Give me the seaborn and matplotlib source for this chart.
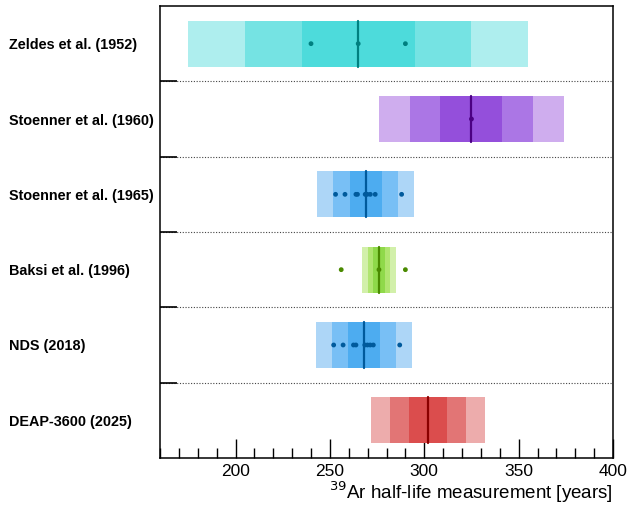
import numpy as np
import pandas as pd
import matplotlib
matplotlib.use("Agg")
import matplotlib.pyplot as plt
import seaborn as sns
from matplotlib.ticker import MultipleLocator, FixedLocator

sns.set_theme(style="ticks")
plt.rcParams['font.family'] = ['Liberation Sans', 'DejaVu Sans']
plt.rcParams['text.color'] = 'black'
plt.rcParams['axes.labelcolor'] = 'black'
plt.rcParams['xtick.color'] = 'black'
plt.rcParams['ytick.color'] = 'black'

labels = ["Zeldes et al. (1952)", "Stoenner et al. (1960)", "Stoenner et al. (1965)",
          "Baksi et al. (1996)", "NDS (2018)", "DEAP-3600 (2025)"]
centers = [265, 325, 269, 276, 268, 302]
sigmas = [30, 16.4, 8.6, 3, 8.5, 10]

zeldes_pts = [240, 265, 290]
stoenner60_pts = [325]
stoenner65_pts = [253, 258, 263.8, 264.6, 268.7, 269.8, 271.4, 274, 288]
baksi_pts = [256, 276, 290]
nds_pts = [252, 257, 262.5, 263.8, 268.5, 269.9, 271.4, 273, 287]
deap_pts = []
points = [zeldes_pts, stoenner60_pts, stoenner65_pts, baksi_pts, nds_pts, deap_pts]

band_colors = [
    ["#aeeeee", "#75e3e3", "#4ddbdb"],
    ["#cfadee", "#ab76e5", "#944fdb"],
    ["#add6f7", "#78bff5", "#4dacf0"],
    ["#d2f0aa", "#b0e570", "#8fd94a"],
    ["#add6f7", "#78bff5", "#4dacf0"],
    ["#edacac", "#e27575", "#db4d4d"],
]
line_colors = ["#008080", "#4b0082", "#005a9c", "#4a8a00", "#005a9c", "#8b0000"]

fig = plt.figure(figsize=(6.27, 5.05), dpi=100)
ax = fig.add_axes([0.2552, 0.0931, 0.7225, 0.895])

bh = 0.61
for i, (c, s) in enumerate(zip(centers, sigmas)):
    for k, col in zip([3, 2, 1], band_colors[i]):
        ax.barh(i, 2 * k * s, left=c - k * s, height=bh, color=col, edgecolor='none', zorder=1)
    ax.plot([c, c], [i - bh / 2, i + bh / 2], color=line_colors[i], lw=1.6, zorder=3)

rows = []
for i, pts in enumerate(points):
    for p in pts:
        rows.append({"value": p, "row": i, "label": labels[i]})
df = pd.DataFrame(rows)
pal = {labels[i]: line_colors[i] for i in range(len(labels))}
sns.scatterplot(data=df, x="value", y="row", hue="label", palette=pal, s=12,
                edgecolor='none', legend=False, ax=ax, zorder=4)

for b in np.arange(0.5, 5.0, 1.0):
    ax.axhline(b, color='#444444', ls=(0, (1, 1.5)), lw=0.8, zorder=0)

ax.set_xlim(160, 400)
ax.set_ylim(5.5, -0.5)
ax.xaxis.set_major_locator(MultipleLocator(50))
ax.xaxis.set_minor_locator(MultipleLocator(10))
ax.tick_params(axis='x', which='major', direction='in', length=14, width=1, labelsize=12.5, pad=4, color='black')
ax.tick_params(axis='x', which='minor', direction='in', length=7, width=1, color='black')
ax.set_yticks(range(len(labels)))
ax.set_yticklabels(labels, fontweight='bold', fontsize=10.4)
ax.yaxis.set_minor_locator(FixedLocator(np.arange(0.5, 5.0, 1.0)))
ax.tick_params(axis='y', which='major', length=0, pad=109)
ax.tick_params(axis='y', which='minor', direction='in', length=12, width=1.2, color='black')
for t in ax.get_yticklabels():
    t.set_horizontalalignment('left')
ax.set_ylabel("")
ax.set_xlabel(r"$^{39}$Ar half-life measurement [years]", fontsize=13.5, loc='right', labelpad=1)
for sp in ax.spines.values():
    sp.set_linewidth(1.1)
    sp.set_color('black')

fig.savefig("out.png", dpi=100)
